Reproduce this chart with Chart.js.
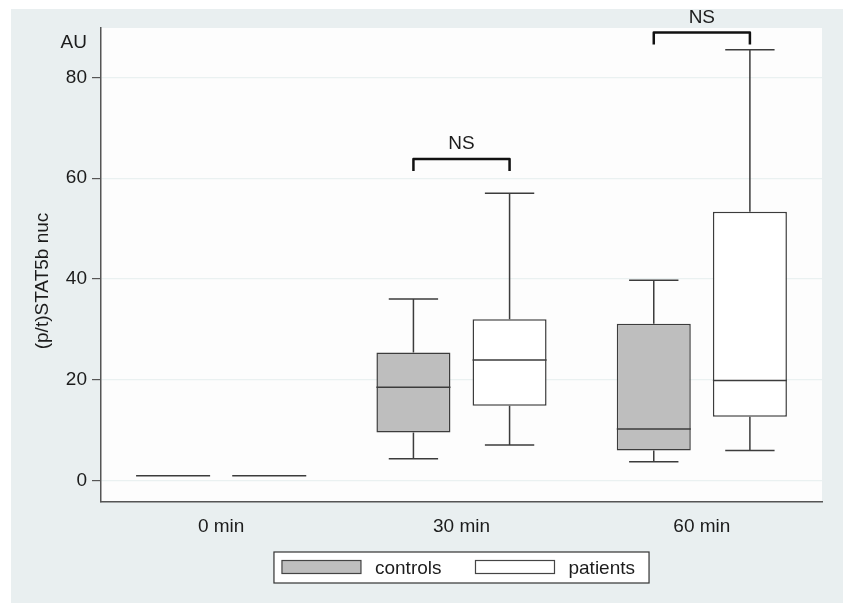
<!DOCTYPE html>
<html>
<head>
<meta charset="utf-8">
<script src="https://cdn.jsdelivr.net/npm/chart.js@4/dist/chart.umd.min.js"></script>
<style>
  html, body { margin: 0; padding: 0; background: #ffffff; }
  #wrap { width: 843px; height: 603px; }
</style>
</head>
<body>
<div id="wrap"><canvas id="chart" width="843" height="603"></canvas></div>
<script>
// values
const categories = ['0 min', '30 min', '60 min'];

const controlsMin    = [0.9, 4.3, 3.7];
const controlsQ1     = [0.9, 9.5, 5.9];
const controlsMedian = [0.9, 18.5, 10.2];
const controlsQ3     = [0.9, 25.4, 31.1];
const controlsMax    = [0.9, 36.0, 39.7];

const patientsMin    = [0.9, 7.0, 5.9];
const patientsQ1     = [0.9, 14.8, 12.6];
const patientsMedian = [0.9, 23.9, 19.8];
const patientsQ3     = [0.9, 32.0, 53.3];
const patientsMax    = [0.9, 57.0, 85.5];

const sigLabels    = ['', 'NS', 'NS'];
const bracketLevel = [null, 63.8, 88.9];

const yTicks = [0, 20, 40, 60, 80];

const FONT = '"Liberation Sans", Arial, Helvetica, sans-serif';
const INK = '#1c1c1c';
const LINE = '#3c3c3c';

const stats = [
    { min: controlsMin, q1: controlsQ1, med: controlsMedian, q3: controlsQ3, max: controlsMax },
    { min: patientsMin, q1: patientsQ1, med: patientsMedian, q3: patientsQ3, max: patientsMax }
];

const boxPlugin = {
    id: 'boxes',
    beforeDraw(chart) {
        const { ctx, chartArea: a } = chart;
        ctx.save();
        ctx.fillStyle = '#ffffff';
        ctx.fillRect(0, 0, chart.width, chart.height);
        ctx.fillStyle = '#e9eff0';
        ctx.fillRect(11, 9, chart.width - 11, chart.height - 9);
        ctx.fillStyle = '#fdfdfd';
        ctx.fillRect(a.left, a.top, a.right - a.left, a.bottom - a.top);
        ctx.restore();
    },
    afterDatasetsDraw(chart) {
        const { ctx } = chart;
        const y = chart.scales.y;
        ctx.save();
        ctx.strokeStyle = LINE;
        ctx.lineWidth = 1.5;
        chart.data.datasets.forEach((ds, di) => {
            const s = stats[di];
            chart.getDatasetMeta(di).data.forEach((bar, i) => {
                const half = bar.width / 2;
                const cap = bar.width / 3;
                const yMin = y.getPixelForValue(s.min[i]);
                const yQ1 = y.getPixelForValue(s.q1[i]);
                const yMed = y.getPixelForValue(s.med[i]);
                const yQ3 = y.getPixelForValue(s.q3[i]);
                const yMax = y.getPixelForValue(s.max[i]);
                ctx.beginPath();
                if (yMax < yQ3) {
                    ctx.moveTo(bar.x, yQ3); ctx.lineTo(bar.x, yMax);
                    ctx.moveTo(bar.x - cap, yMax); ctx.lineTo(bar.x + cap, yMax);
                }
                if (yMin > yQ1) {
                    ctx.moveTo(bar.x, yQ1); ctx.lineTo(bar.x, yMin);
                    ctx.moveTo(bar.x - cap, yMin); ctx.lineTo(bar.x + cap, yMin);
                }
                ctx.moveTo(bar.x - half, yMed); ctx.lineTo(bar.x + half, yMed);
                ctx.stroke();
            });
        });

        // significance brackets
        const m0 = chart.getDatasetMeta(0).data;
        const m1 = chart.getDatasetMeta(1).data;
        ctx.strokeStyle = '#111';
        ctx.lineWidth = 2.5;
        ctx.lineJoin = 'round';
        ctx.fillStyle = INK;
        ctx.font = '19px ' + FONT;
        ctx.textAlign = 'center';
        ctx.textBaseline = 'middle';
        bracketLevel.forEach((lv, i) => {
            if (lv === null) return;
            const top = y.getPixelForValue(lv);
            const leg = y.getPixelForValue(lv - 2.4);
            const x0 = m0[i].x, x1 = m1[i].x;
            ctx.beginPath();
            ctx.moveTo(x0, leg);
            ctx.lineTo(x0, top);
            ctx.lineTo(x1, top);
            ctx.lineTo(x1, leg);
            ctx.stroke();
            ctx.fillText(sigLabels[i], (x0 + x1) / 2, top - 15);
        });
        ctx.restore();
    },
    afterDraw(chart) {
        const { ctx, chartArea: a } = chart;
        ctx.save();
        ctx.fillStyle = INK;
        ctx.font = '19px ' + FONT;

        // unit label above the axis
        ctx.textAlign = 'right';
        ctx.textBaseline = 'middle';
        ctx.fillText('AU', 87, 43);

        // y axis title
        ctx.save();
        ctx.translate(43, 281);
        ctx.rotate(-Math.PI / 2);
        ctx.textAlign = 'center';
        ctx.fillText('(p/t)STAT5b nuc', 0, 0);
        ctx.restore();

        // legend with a frame
        const sw = 79, sh = 13;
        const items = chart.data.datasets.map(ds => ({
            label: ds.label, fill: ds.backgroundColor, w: ctx.measureText(ds.label).width
        }));
        const total = 8 + sw + 14 + items[0].w + 34 + sw + 14 + items[1].w + 14;
        const lx = (a.left + a.right) / 2 - total / 2;
        const ly = 552, lh = 31;
        ctx.fillStyle = '#ffffff';
        ctx.fillRect(lx, ly, total, lh);
        ctx.strokeStyle = '#333';
        ctx.lineWidth = 1.2;
        ctx.strokeRect(lx, ly, total, lh);
        let cx = lx + 8;
        ctx.textAlign = 'left';
        items.forEach((it, k) => {
            ctx.fillStyle = it.fill;
            ctx.fillRect(cx, ly + 8.5, sw, sh);
            ctx.strokeStyle = '#444';
            ctx.strokeRect(cx, ly + 8.5, sw, sh);
            cx += sw + 14;
            ctx.fillStyle = INK;
            ctx.fillText(it.label, cx, ly + lh / 2 + 1);
            cx += it.w + 34;
        });
        ctx.restore();
    }
};

new Chart(document.getElementById('chart'), {
    type: 'bar',
    data: {
        labels: categories,
        datasets: [
            {
                label: 'controls',
                data: controlsQ1.map((q, i) => [q, controlsQ3[i]]),
                backgroundColor: '#bebebe',
                borderColor: LINE,
                borderWidth: 1.5,
                borderSkipped: false
            },
            {
                label: 'patients',
                data: patientsQ1.map((q, i) => [q, patientsQ3[i]]),
                backgroundColor: '#ffffff',
                borderColor: LINE,
                borderWidth: 1.5,
                borderSkipped: false
            }
        ]
    },
    options: {
        responsive: false,
        animation: false,
        events: [],
        categoryPercentage: 0.8,
        barPercentage: 0.77,
        layout: { padding: { left: 11, top: 28, right: 21, bottom: 0 } },
        plugins: {
            legend: { display: false },
            tooltip: { enabled: false }
        },
        scales: {
            x: {
                grid: { display: false, drawTicks: false },
                border: { color: '#555', width: 1.5 },
                ticks: { color: INK, font: { family: FONT, size: 19 }, padding: 13 },
                afterFit(scale) { scale.height = 101; }
            },
            y: {
                min: -4.3,
                max: 89.8,
                afterBuildTicks(scale) { scale.ticks = yTicks.map(v => ({ value: v })); },
                grid: { color: '#eaf1f1', tickColor: '#555', tickLength: 9, lineWidth: 1.2 },
                border: { color: '#555', width: 1.5 },
                ticks: { color: INK, font: { family: FONT, size: 19 }, padding: 5 },
                afterFit(scale) { scale.width = 90; }
            }
        }
    },
    plugins: [boxPlugin]
});
</script>
</body>
</html>
